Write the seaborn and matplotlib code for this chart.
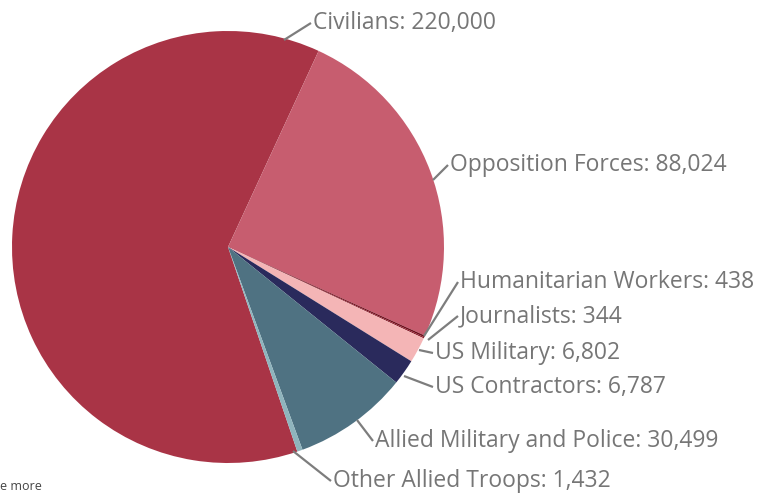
import matplotlib
matplotlib.use("Agg")
import matplotlib.pyplot as plt
import seaborn as sns

# casualty counts
labels = ['Civilians', 'Opposition Forces', 'Humanitarian Workers', 'Journalists',
          'US Military', 'US Contractors', 'Allied Military and Police', 'Other Allied Troops']
values = [220000, 88024, 438, 344, 6802, 6787, 30499, 1432]
hex_colors = ['#A93446', '#C75D6F', '#6E0E1C', '#8A1E2C',
              '#F4B5B6', '#2A2A5C', '#4F7282', '#8FB4BD']

sns.set_theme(style='white')
plt.rcParams['font.family'] = ['Open Sans', 'DejaVu Sans']
palette = sns.color_palette(hex_colors)

W, H = 766, 494
fig = plt.figure(figsize=(W / 100, H / 100), dpi=100)
ax = fig.add_axes([0, 0, 1, 1])

total = sum(values)
start = 65.2 + values[0] / total * 360  # civilians/opposition border sits at ~65 deg

# y axis gets flipped below, so counterclock=True draws clockwise on screen
ax.pie(values, colors=palette, startangle=-start, counterclock=True,
       center=(228, 247), radius=216, frame=True,
       wedgeprops=dict(linewidth=0))
ax.set_xlim(0, W)
ax.set_ylim(H, 0)
ax.axis('off')

# leader line: (anchor on pie) -> (end), text sits right after the end, in pixels
layout = [
    ((284, 40), (311, 23)),
    ((433, 180), (448, 165)),
    ((424, 336), (458, 282)),
    ((428, 340), (458, 316)),
    ((419, 350), (433, 353)),
    ((404, 376), (433, 387)),
    ((357, 420), (373, 441)),
    ((293, 451), (331, 481)),
]

for lab, val, (p0, p1) in zip(labels, values, layout):
    ax.plot([p0[0], p1[0]], [p0[1], p1[1]], color='#7d7d7d', lw=1.6,
            solid_capstyle='butt')
    ax.text(p1[0] + 2, p1[1], f'{lab}: {val:,}', ha='left', va='center',
            fontsize=16.5, color='#767676')

ax.text(0, 493, 'e more', ha='left', va='bottom', fontsize=9, color='#444444')

fig.savefig('out.png', dpi=100)
